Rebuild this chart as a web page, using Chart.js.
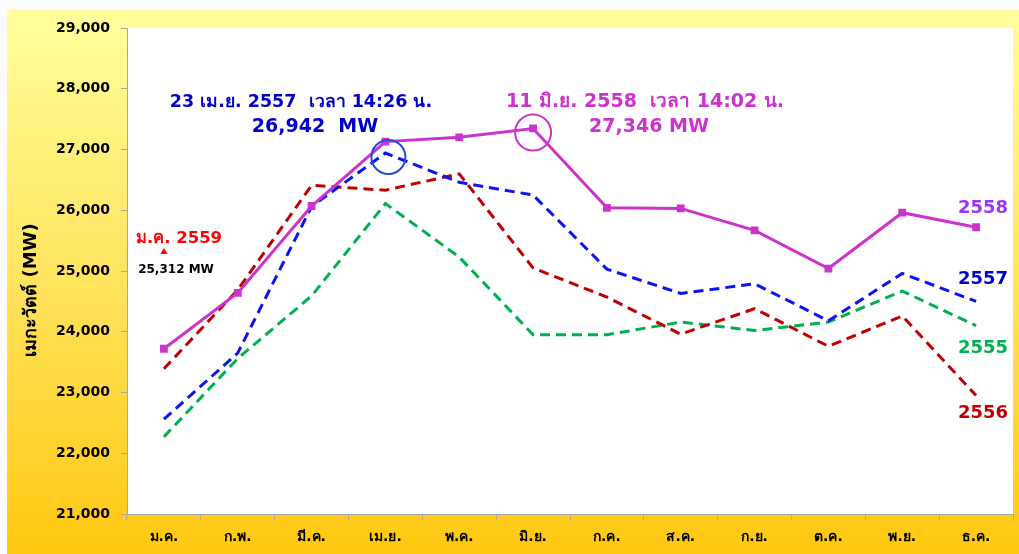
<!DOCTYPE html>
<html>
<head>
<meta charset="utf-8">
<script src="https://cdn.jsdelivr.net/npm/chart.js@4.4.1/dist/chart.umd.min.js"></script>
<style>
  html, body { margin: 0; padding: 0; background: #ffffff; }
  #wrap { width: 1019px; height: 554px; position: relative; }
</style>
</head>
<body>
<div id="wrap"><canvas id="c" width="1019" height="554"></canvas></div>
<script>
const months = ['ม.ค.','ก.พ.','มี.ค.','เม.ย.','พ.ค.','มิ.ย.','ก.ค.','ส.ค.','ก.ย.','ต.ค.','พ.ย.','ธ.ค.'];
const y2558 = [23720, 24640, 26070, 27130, 27200, 27346, 26040, 26030, 25670, 25040, 25960, 25720];
const y2557 = [22560, 23650, 26060, 26942, 26460, 26250, 25030, 24630, 24790, 24180, 24960, 24500];
const y2555 = [22270, 23560, 24590, 26110, 25230, 23950, 23950, 24160, 24020, 24160, 24670, 24100];
const y2556 = [23390, 24690, 26410, 26330, 26600, 25050, 24570, 23960, 24380, 23760, 24260, 22950];
const y2559 = [25312];
const yTicks = [21000, 22000, 23000, 24000, 25000, 26000, 27000, 28000, 29000];

const FONT = "'DejaVu Sans', Verdana, 'Noto Sans', sans-serif";

const bgPlugin = {
  id: 'bg',
  beforeDraw(chart) {
    const ctx = chart.ctx;
    const ca = chart.chartArea;
    ctx.save();
    ctx.fillStyle = '#fbfbfb';
    ctx.fillRect(0, 0, chart.width, chart.height);
    const g = ctx.createLinearGradient(0, 9, 0, 554);
    g.addColorStop(0, '#FFFF9C');
    g.addColorStop(0.5, '#FFE45E');
    g.addColorStop(1, '#FFC810');
    ctx.fillStyle = g;
    ctx.fillRect(7, 9, chart.width - 7, chart.height - 9);
    ctx.fillStyle = '#ffffff';
    ctx.fillRect(ca.left, ca.top, ca.right - ca.left, ca.bottom - ca.top);
    ctx.restore();
  }
};

const annPlugin = {
  id: 'ann',
  afterDatasetsDraw(chart) {
    const ctx = chart.ctx;
    const xs = chart.scales.x, ys = chart.scales.y;
    ctx.save();
    // y-axis title
    ctx.save();
    ctx.translate(31, 290);
    ctx.rotate(-Math.PI / 2);
    ctx.fillStyle = '#000';
    ctx.font = "bold 18px " + FONT;
    ctx.textAlign = 'center';
    ctx.textBaseline = 'middle';
    ctx.fillText('เมกะวัตต์ (MW)', 0, 0);
    ctx.restore();

    // circles
    ctx.lineWidth = 2;
    ctx.strokeStyle = '#1F4FD0';
    ctx.beginPath();
    ctx.arc(xs.getPixelForValue(3) + 3, ys.getPixelForValue(y2557[3]) + 4, 17, 0, Math.PI * 2);
    ctx.stroke();
    ctx.strokeStyle = '#CC33CC';
    ctx.beginPath();
    ctx.arc(xs.getPixelForValue(5), ys.getPixelForValue(y2558[5]) + 4, 18, 0, Math.PI * 2);
    ctx.stroke();

    ctx.textBaseline = 'middle';
    ctx.textAlign = 'center';
    // blue annotation
    ctx.fillStyle = '#0000CC';
    ctx.font = "bold 17.5px " + FONT;
    ctx.fillText('23 เม.ย. 2557  เวลา 14:26 น.', 301, 102);
    ctx.font = "bold 19px " + FONT;
    ctx.fillText('26,942  MW', 315, 127);
    // magenta annotation
    ctx.fillStyle = '#CC33CC';
    ctx.fillText('11 มิ.ย. 2558  เวลา 14:02 น.', 645, 102);
    ctx.fillText('27,346 MW', 649, 127);

    // 2559 marker
    const px = xs.getPixelForValue(0), py = ys.getPixelForValue(y2559[0]);
    ctx.fillStyle = '#FF0000';
    ctx.font = "bold 16.5px " + FONT;
    ctx.fillText('ม.ค. 2559', 179, 239);
    ctx.beginPath();
    ctx.moveTo(px, py - 4);
    ctx.lineTo(px + 3.5, py + 2);
    ctx.lineTo(px - 3.5, py + 2);
    ctx.closePath();
    ctx.fill();
    ctx.fillStyle = '#000000';
    ctx.font = "bold 12px " + FONT;
    ctx.fillText('25,312 MW', 176, 270);

    // series labels at right
    const lx = 983;
    const lbl = [
      ['2558', '#9933FF', y2558, -19],
      ['2557', '#0000CC', y2557, -22],
      ['2555', '#00B050', y2555, 23],
      ['2556', '#C00000', y2556, 18]
    ];
    ctx.font = "bold 18px " + FONT;
    for (const [t, c, arr, off] of lbl) {
      ctx.fillStyle = c;
      ctx.fillText(t, lx, ys.getPixelForValue(arr[arr.length - 1]) + off);
    }
    ctx.restore();
  }
};

const dashed = [10, 6];
new Chart(document.getElementById('c'), {
  type: 'line',
  data: {
    labels: months,
    datasets: [
      { label: '2558', data: y2558, borderColor: '#CC33CC', backgroundColor: '#CC33CC', borderWidth: 3,
        pointStyle: 'rect', pointRadius: 5.5, pointBorderWidth: 0, tension: 0 },
      { label: '2557', data: y2557, borderColor: '#0A14F0', borderWidth: 3, borderDash: dashed, pointRadius: 0, tension: 0 },
      { label: '2556', data: y2556, borderColor: '#C00000', borderWidth: 3, borderDash: dashed, pointRadius: 0, tension: 0 },
      { label: '2555', data: y2555, borderColor: '#00B050', borderWidth: 3, borderDash: dashed, pointRadius: 0, tension: 0 }
    ]
  },
  options: {
    responsive: false,
    animation: false,
    devicePixelRatio: 1,
    layout: { padding: { left: 0, top: 28, right: 6, bottom: 0 } },
    plugins: { legend: { display: false }, tooltip: { enabled: false }, title: { display: false } },
    scales: {
      x: {
        offset: true,
        grid: { display: true, drawOnChartArea: false, tickLength: 6, color: '#A6A6A6', offset: true },
        border: { color: '#A6A6A6', width: 1 },
        ticks: { color: '#000', font: { family: FONT, size: 14, weight: 'bold' }, padding: 9, maxRotation: 0, autoSkip: false },
        afterFit(s) { s.height = 40; }
      },
      y: {
        min: 21000, max: 29000,
        afterBuildTicks(s) { s.ticks = yTicks.map(v => ({ value: v })); },
        grid: { display: true, drawOnChartArea: false, tickLength: 6, color: '#A6A6A6' },
        border: { color: '#A6A6A6', width: 1 },
        ticks: { color: '#000', font: { family: FONT, size: 14, weight: 'bold' }, padding: 11,
          callback: v => v.toLocaleString('en-US') },
        afterFit(s) { s.width = 127; }
      }
    }
  },
  plugins: [bgPlugin, annPlugin]
});
</script>
</body>
</html>
